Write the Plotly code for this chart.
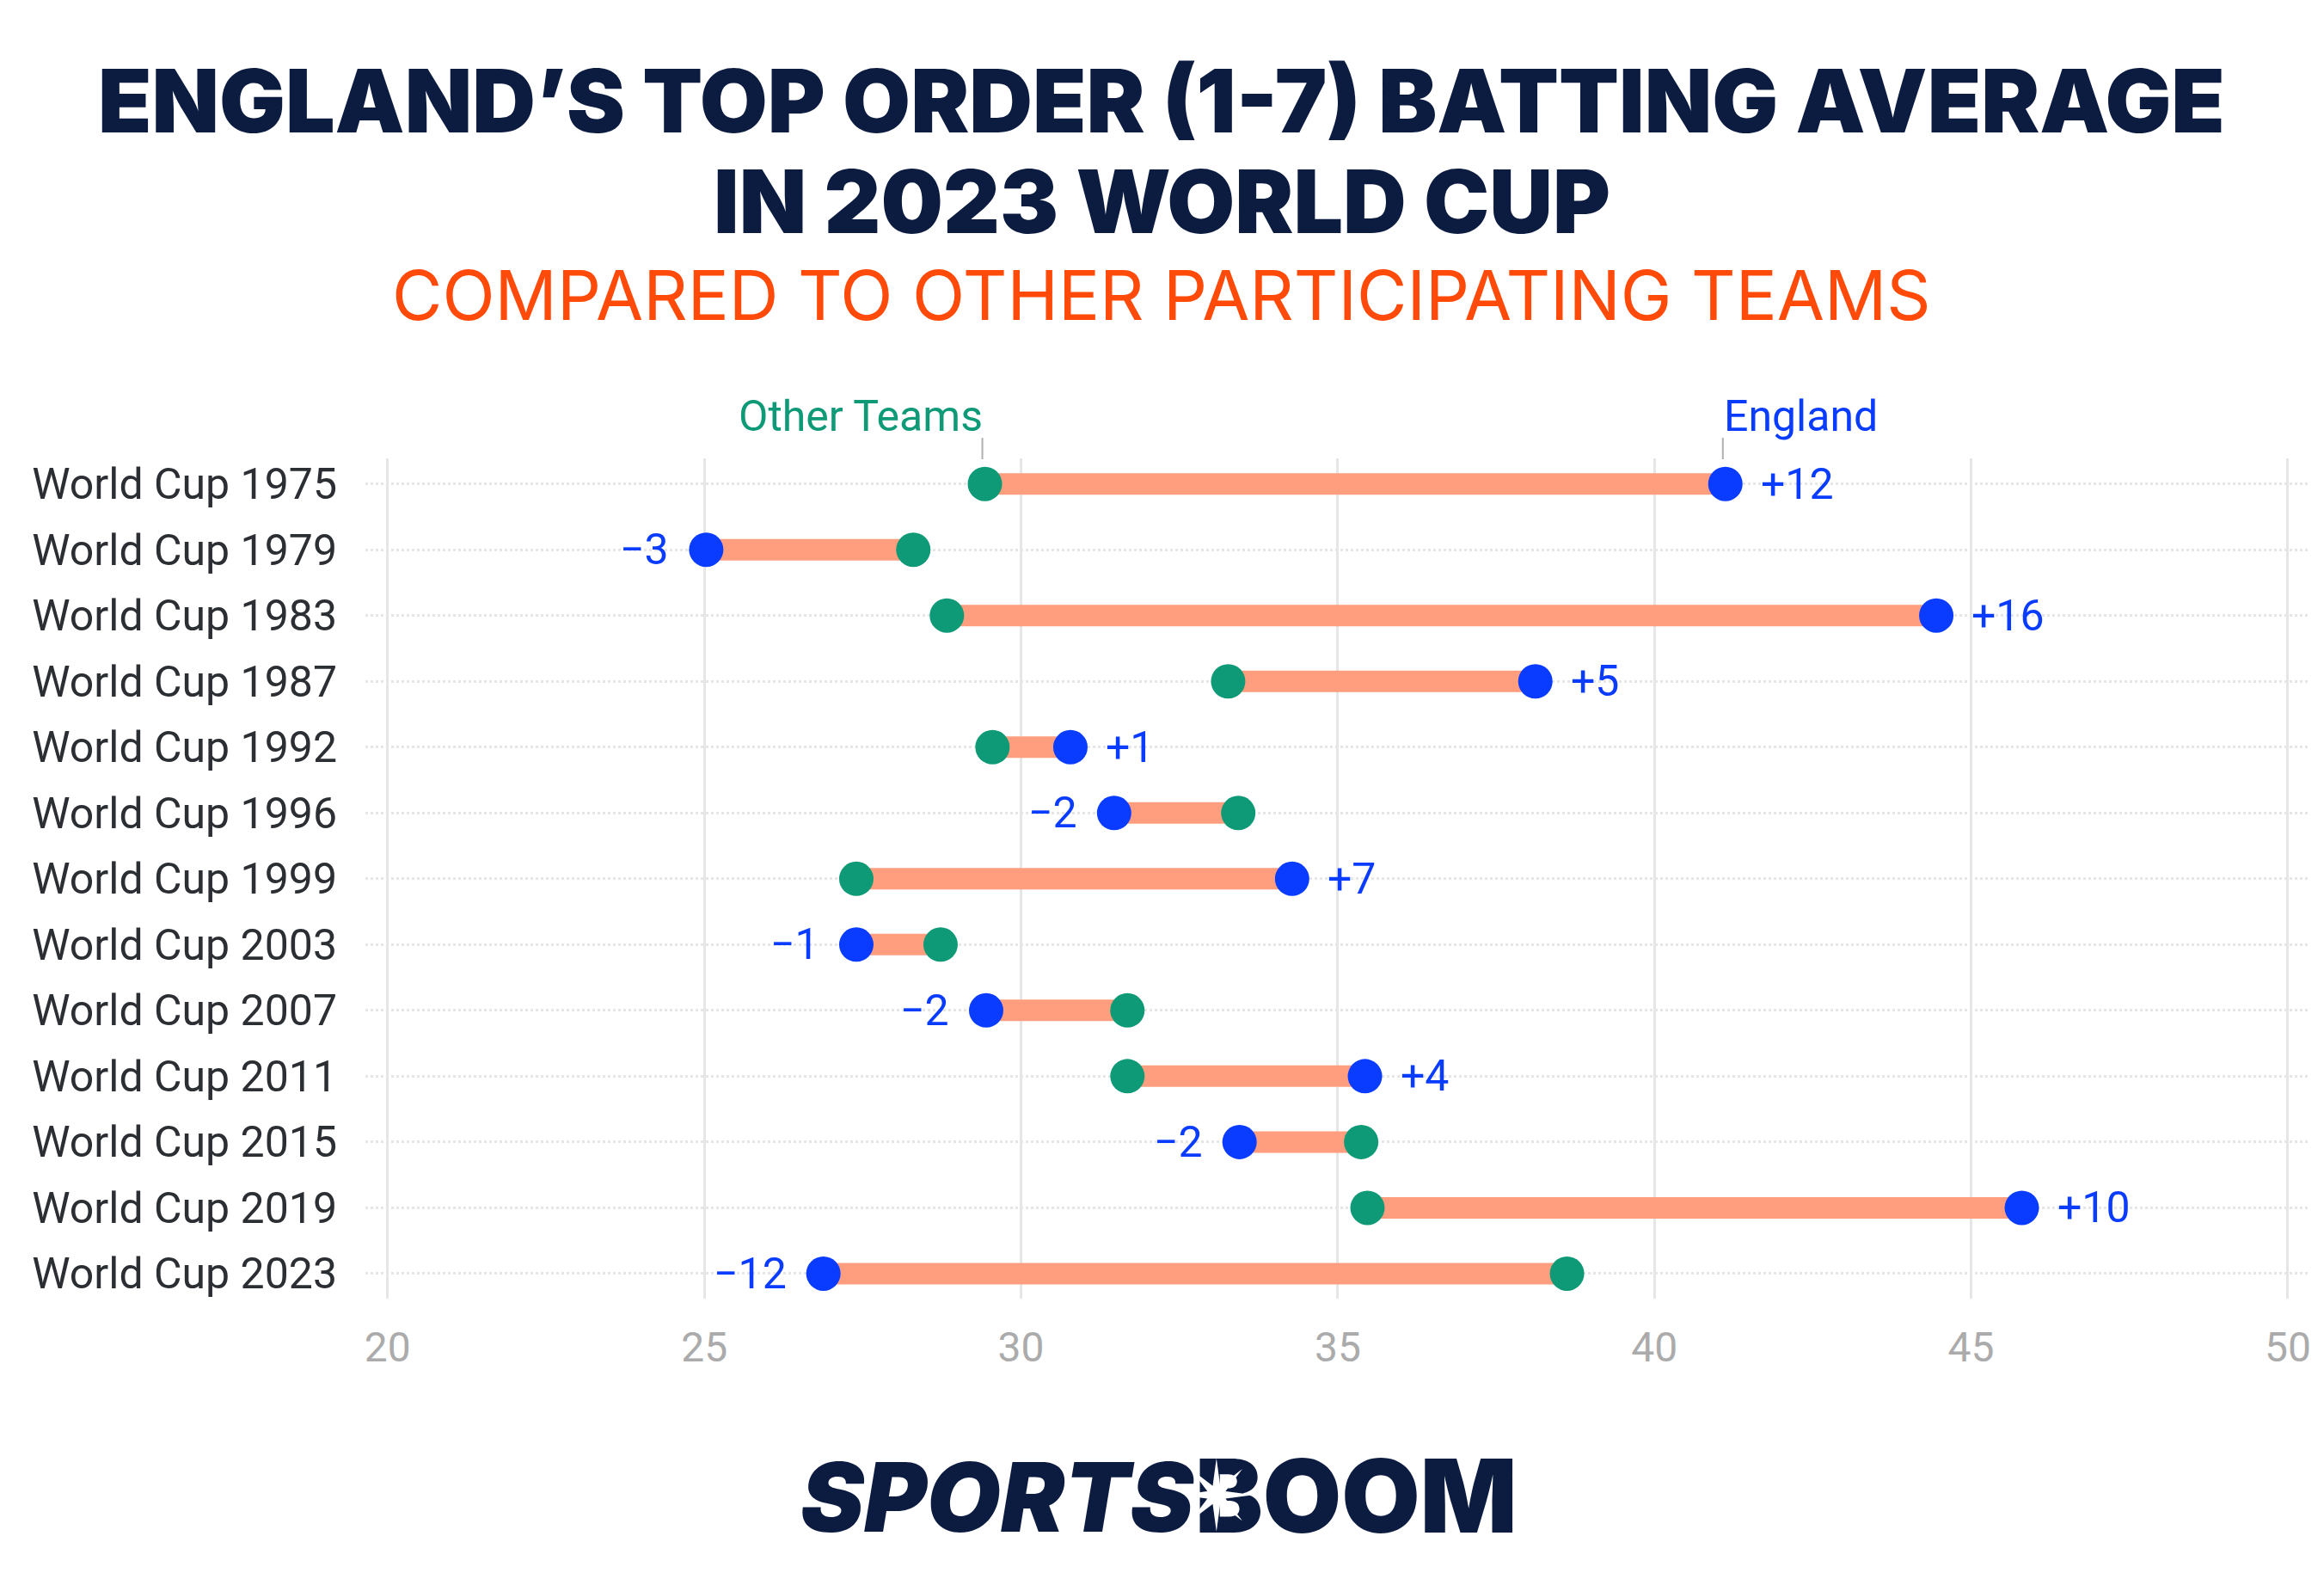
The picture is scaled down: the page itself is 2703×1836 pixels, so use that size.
import plotly.graph_objects as go

# -- Datos ---------------------------------------------------------------------
CUPS = ["World Cup 1975", "World Cup 1979", "World Cup 1983", "World Cup 1987",
        "World Cup 1992", "World Cup 1996", "World Cup 1999", "World Cup 2003",
        "World Cup 2007", "World Cup 2011", "World Cup 2015", "World Cup 2019",
        "World Cup 2023"]
OTHER_TEAMS = [29.43, 28.3, 28.83, 33.27, 29.55, 33.43, 27.4, 28.73, 31.68, 31.68, 35.37, 35.47, 38.62]
ENGLAND = [41.12, 25.03, 44.45, 38.12, 30.78, 31.47, 34.28, 27.4, 29.45, 35.43, 33.45, 45.8, 26.88]
DIFF_LABELS = ["+12", "−3", "+16", "+5", "+1", "−2", "+7", "−1", "−2", "+4", "−2", "+10", "−12"]
X_TICKS = [20, 25, 30, 35, 40, 45, 50]

# -- Estilo --------------------------------------------------------------------
W, H = 2703, 1836
M_L, M_R, M_T, M_B = 425, 17, 533, 326
NAVY = "#0c1c40"
ORANGE = "#ff4a0a"
BLUE = "#0a3cff"
GREEN = "#0e9a76"
BAR = "#ff9e7e"
LABEL_SIZE = 50


# paper va referido al area de trazado, no a la pagina
def py(y_px):
    return (H - M_B - y_px) / (H - M_T - M_B)


def px(x_px):
    return (x_px - M_L) / (W - M_L - M_R)


def texto(x_px, y_px, text, size, color, family="Inter", weight=400, anchor="center", style="normal"):
    return dict(x=px(x_px), y=py(y_px), xref="paper", yref="paper", text=text, showarrow=False,
                xanchor=anchor, yanchor="middle",
                font=dict(family=family, size=size, color=color, weight=weight, style=style))


fig = go.Figure()

# barras
for cup, o, e in zip(CUPS, OTHER_TEAMS, ENGLAND):
    fig.add_trace(go.Scatter(x=[o, e], y=[cup, cup], mode="lines", showlegend=False,
                             line=dict(color=BAR, width=25), hoverinfo="skip"))

fig.add_trace(go.Scatter(x=OTHER_TEAMS, y=CUPS, mode="markers", name="Other Teams", showlegend=False,
                         marker=dict(color=GREEN, size=40, line=dict(width=0))))
fig.add_trace(go.Scatter(x=ENGLAND, y=CUPS, mode="markers", name="England", showlegend=False,
                         marker=dict(color=BLUE, size=40, line=dict(width=0))))

# etiquetas de diferencia
anotaciones = []
for cup, o, e, lab in zip(CUPS, OTHER_TEAMS, ENGLAND, DIFF_LABELS):
    derecha = e > o
    anotaciones.append(dict(x=e, y=cup, text=lab, showarrow=False,
                            xanchor="left" if derecha else "right", yanchor="middle",
                            xshift=39 if derecha else -41,
                            font=dict(family="Roboto", size=LABEL_SIZE, color=BLUE)))

# cabeceras de serie
anotaciones.append(dict(x=OTHER_TEAMS[0], y=py(484), xref="x", yref="paper", text="Other Teams",
                        showarrow=False, xanchor="right", yanchor="middle", xshift=-1,
                        font=dict(family="Roboto", size=LABEL_SIZE, color=GREEN)))
anotaciones.append(dict(x=ENGLAND[0], y=py(484), xref="x", yref="paper", text="England",
                        showarrow=False, xanchor="left", yanchor="middle", xshift=-4,
                        font=dict(family="Roboto", size=LABEL_SIZE, color=BLUE)))
for val in (OTHER_TEAMS[0], ENGLAND[0]):
    fig.add_shape(type="line", x0=val - 0.04, x1=val - 0.04, y0=py(509), y1=py(534), xref="x", yref="paper",
                  line=dict(color="#b0b0b0", width=2))

# titulos
anotaciones.append(texto(1351, 117, "ENGLAND’S TOP ORDER (1-7) BATTING AVERAGE", 102, NAVY, weight=900))
anotaciones.append(texto(1351, 234, "IN 2023 WORLD CUP", 102, NAVY, weight=900))
anotaciones.append(texto(1351, 343, "COMPARED TO OTHER PARTICIPATING TEAMS", 80, ORANGE, weight=400))

# logo: la estrella blanca va encima de la B y debajo de SPORTS
anotaciones.append(texto(1388, 1739, "BOOM", 118, NAVY, weight=900, anchor="left"))
anotaciones.append(texto(1416, 1740, "✴", 112, "white", family="DejaVu Sans"))
anotaciones.append(texto(928, 1740, "SPORTS", 111, NAVY, weight=900, anchor="left", style="italic"))

fig.update_layout(
    width=W, height=H,
    margin=dict(l=M_L, r=M_R, t=M_T, b=M_B),
    paper_bgcolor="white", plot_bgcolor="white",
    showlegend=False,
    annotations=anotaciones,
    xaxis=dict(range=[19.65, 50.34], tickvals=X_TICKS, showgrid=True, gridcolor="#e6e6e6", gridwidth=3,
               zeroline=False, showline=False, ticks="outside", ticklen=14, tickcolor="rgba(0,0,0,0)",
               tickfont=dict(family="Roboto", size=48, color="#ababab")),
    yaxis=dict(range=[12.38, -0.388], type="category", categoryorder="array", categoryarray=CUPS,
               showgrid=True, gridcolor="#e6e6e6", gridwidth=3, griddash="dot",
               zeroline=False, showline=False, ticks="outside", ticklen=22, tickcolor="rgba(0,0,0,0)",
               tickfont=dict(family="Roboto", size=LABEL_SIZE, color="#2b2f33")),
)

fig.write_html("out.html", config=dict(displayModeBar=False), post_script="document.body.style.margin='0';")
